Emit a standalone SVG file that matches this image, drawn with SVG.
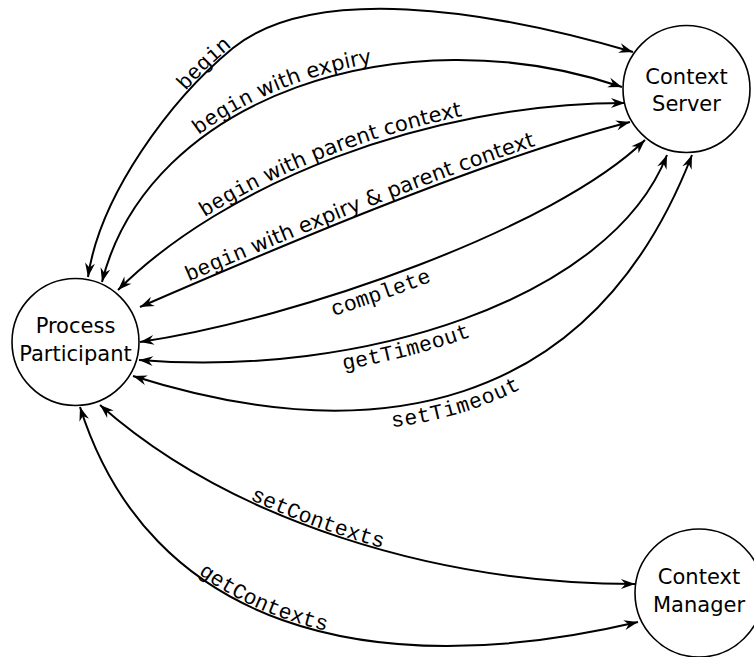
<svg xmlns="http://www.w3.org/2000/svg" xmlns:xlink="http://www.w3.org/1999/xlink" width="754" height="657" viewBox="0 0 754 657">
<style>
.node circle{fill:#fff;stroke:#000;stroke-width:1.6}
.node text{font-family:"DejaVu Sans",sans-serif;font-size:21px;fill:#000;text-anchor:middle}
.edge{fill:none;stroke:#000;stroke-width:2;marker-start:url(#ah);marker-end:url(#ah)}
.lbl{text-anchor:middle;fill:#000}
.m{font-family:"Liberation Mono",monospace;font-size:21.5px}
.s{font-family:"DejaVu Sans",sans-serif;font-size:21px}
</style>
<defs>
<marker id="ah" viewBox="-15 -6 16 12" refX="0" refY="0" markerWidth="16" markerHeight="12" markerUnits="userSpaceOnUse" orient="auto-start-reverse">
<path d="M0,0 L-14,-5 L-9.5,0 L-14,5 Z" fill="#000"/>
</marker>
</defs>
<g id="connectors">
<path id="e1" class="edge" d="M88,277 C100,195 170,100 233,48 C313,-16 483,8 633,52"/>
<path id="e2" class="edge" d="M102,282 C148,98 401,12 622,87"/>
<path id="e3" class="edge" d="M118,290 C223,185 425,103 625,103"/>
<path id="e4" class="edge" d="M140,307 C260,255 480,160 630,122"/>
<path id="e5" class="edge" d="M140,342 C300,318 555,228 645,140"/>
<path id="e6" class="edge" d="M139,360 C360,378 610,300 667,155"/>
<path id="e7" class="edge" d="M133,376 C370,451 591,415 692,155"/>
<path id="e8" class="edge" d="M100,405 C230,520 435,584 635,584"/>
<path id="e9" class="edge" d="M80,407 C149,625 366,686 638,622"/>
<text class="lbl m"><textPath href="#e1" startOffset="35.5%"><tspan dy="-2">begin</tspan></textPath></text>
<text class="lbl"><textPath href="#e2" startOffset="44%"><tspan class="m" dy="-4">begin</tspan><tspan class="s"> with expiry</tspan></textPath></text>
<text class="lbl"><textPath href="#e3" startOffset="45.5%"><tspan class="m" dy="-4">begin</tspan><tspan class="s"> with parent context</tspan></textPath></text>
<text class="lbl"><textPath href="#e4" startOffset="46%"><tspan class="m" dy="-4">begin</tspan><tspan class="s"> with expiry &amp; parent context</tspan></textPath></text>
<text class="lbl m"><textPath href="#e5" startOffset="44.5%"><tspan dy="20">complete</tspan></textPath></text>
<text class="lbl m"><textPath href="#e6" startOffset="44.5%"><tspan dy="19">getTimeout</tspan></textPath></text>
<text class="lbl m"><textPath href="#e7" startOffset="48%"><tspan dy="20">setTimeout</tspan></textPath></text>
<text class="lbl m"><textPath href="#e8" startOffset="43.2%"><tspan dy="-2">setContexts</tspan></textPath></text>
<text class="lbl m"><textPath href="#e9" startOffset="42%"><tspan dy="-2">getContexts</tspan></textPath></text>
</g>
<g id="process-participant" class="node">
<circle cx="75.5" cy="342" r="63.5"/>
<text x="75.5" y="333">Process</text>
<text x="75.5" y="361">Participant</text>
</g>
<g id="context-server" class="node">
<circle cx="686.5" cy="89" r="63.5"/>
<text x="686.5" y="84">Context</text>
<text x="686.5" y="111">Server</text>
</g>
<g id="context-manager" class="node">
<circle cx="699" cy="593" r="64"/>
<text x="699" y="584">Context</text>
<text x="699" y="612">Manager</text>
</g>
</svg>
